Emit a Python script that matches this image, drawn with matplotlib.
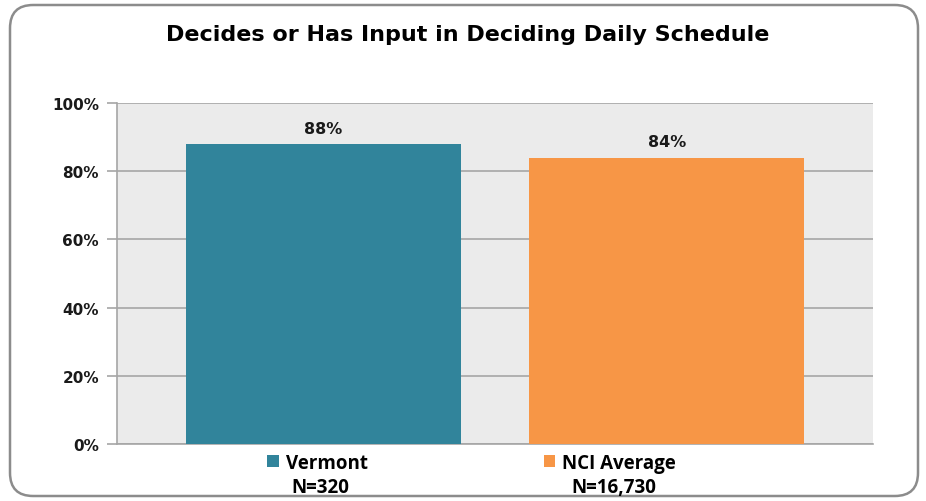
import matplotlib
matplotlib.use("Agg")
import matplotlib.pyplot as plt
from matplotlib.patches import FancyBboxPatch, Patch

title = "Decides or Has Input in Deciding Daily Schedule"
categories = ["Vermont", "NCI Average"]
sample_sizes = ["N=320", "N=16,730"]
values = [88, 84]
bar_labels = ["88%", "84%"]
yticks = [0, 20, 40, 60, 80, 100]
ytick_labels = ["0%", "20%", "40%", "60%", "80%", "100%"]
colors = ["#31849B", "#F79646"]

W, H = 926, 502
fig = plt.figure(figsize=(W / 100, H / 100), dpi=100)
fig.patch.set_facecolor("white")

# rounded border
border = FancyBboxPatch((10 / W, 5 / H), 908 / W, 491 / H,
                        boxstyle="round,pad=0,rounding_size=0.025",
                        transform=fig.transFigure, facecolor="none",
                        edgecolor="#8C8C8C", linewidth=1.8, mutation_aspect=W / H)
fig.patches.append(border)

ax = fig.add_axes([117 / W, 1 - 445 / H, 756 / W, 341 / H])
ax.set_facecolor("#EBEBEB")
x = list(range(len(categories)))
bars = ax.bar(x, values, width=0.80, color=colors, zorder=3)
ax.set_xlim(-0.6, 1.6)
ax.set_ylim(0, 100)
ax.set_yticks(yticks)
ax.set_yticklabels(ytick_labels, fontfamily="DejaVu Sans", fontweight="bold",
                   fontsize=11, color="#1a1a1a")
ax.set_xticks([])
ax.grid(axis="y", color="#A6A6A6", linewidth=1.2, zorder=1)
for s in ["top", "right"]:
    ax.spines[s].set_visible(False)
ax.spines["left"].set_color("#A6A6A6")
ax.spines["bottom"].set_color("#A6A6A6")
ax.spines["left"].set_linewidth(1.2)
ax.spines["bottom"].set_linewidth(1.2)
ax.tick_params(axis="y", length=7, color="#A6A6A6", width=1.2, pad=6)

ax.bar_label(bars, labels=bar_labels, padding=6, fontfamily="DejaVu Sans",
             fontweight="bold", fontsize=11.5, color="#1a1a1a")

fig.text(468 / W, 1 - 35 / H, title, ha="center", va="center",
         fontfamily="DejaVu Sans", fontweight="bold", fontsize=16, color="black")

handles = [Patch(facecolor=c, edgecolor="none") for c in colors]
leg = fig.legend(handles, categories, loc="center", bbox_to_anchor=(471.5 / W, 1 - 464 / H),
                 ncol=2, frameon=False, columnspacing=9.4, handlelength=0.6,
                 handleheight=0.6, handletextpad=0.37, borderpad=0, borderaxespad=0,
                 prop={"family": "Open Sans", "weight": "bold", "size": 13.5})

for xp, n in zip([320, 614], sample_sizes):
    fig.text(xp / W, 1 - 488.5 / H, n, ha="center", va="center",
             fontfamily="Open Sans", fontweight="bold", fontsize=13.5, color="black")

fig.savefig("out.png", dpi=100)
